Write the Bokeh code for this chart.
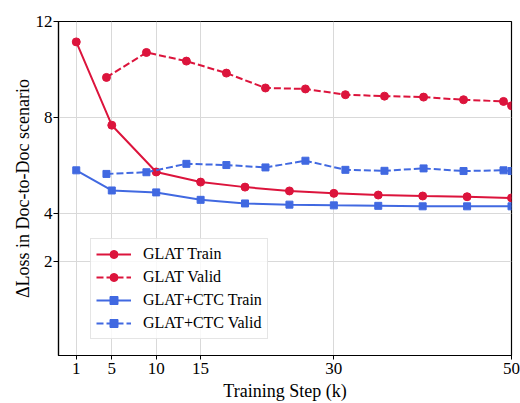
from bokeh.plotting import figure
from bokeh.models import Range1d, FixedTicker, Legend, LegendItem
from bokeh.embed import file_html
from bokeh.resources import INLINE

# ---- data ----
train_steps = [1, 5, 10, 15, 20, 25, 30, 35, 40, 45, 50]
glat_train = [11.15, 7.68, 5.73, 5.31, 5.10, 4.94, 4.84, 4.77, 4.73, 4.70, 4.65]
ctc_train = [5.80, 4.96, 4.88, 4.57, 4.42, 4.37, 4.34, 4.32, 4.30, 4.30, 4.30]

valid_steps = [4.4, 8.9, 13.4, 17.9, 22.3, 26.8, 31.3, 35.7, 40.1, 44.6, 49.1, 50]
glat_valid = [9.67, 10.71, 10.35, 9.85, 9.23, 9.19, 8.95, 8.89, 8.85, 8.74, 8.67, 8.49]
ctc_valid = [5.65, 5.72, 6.07, 6.02, 5.92, 6.20, 5.82, 5.78, 5.88, 5.77, 5.80, 5.77]

x_ticks = [1, 5, 10, 15, 30, 50]
y_ticks = [2, 4, 8, 12]

RED = "#DC143C"
BLUE = "#4169E1"
FONT = "Liberation Serif"
DASH = "7 3"

p = figure(width=520, height=403, output_backend="svg", toolbar_location=None,
           x_range=Range1d(-1, 50), y_range=Range1d(-1.915, 12),
           min_border_left=58, min_border_right=9, min_border_top=21, min_border_bottom=44)

p.background_fill_color = "white"
p.border_fill_color = "white"
p.outline_line_color = "black"
p.outline_line_width = 1.2

p.xaxis.ticker = FixedTicker(ticks=x_ticks)
p.yaxis.ticker = FixedTicker(ticks=y_ticks)
p.xaxis.axis_label = "Training Step (k)"
p.yaxis.axis_label = "\u0394Loss in Doc-to-Doc scenario"
for ax in (p.xaxis, p.yaxis):
    ax.axis_label_text_font = FONT
    ax.axis_label_text_font_size = "18px"
    ax.axis_label_text_font_style = "normal"
    ax.axis_label_text_color = "black"
    ax.major_label_text_font = FONT
    ax.major_label_text_font_size = "17px"
    ax.major_label_text_color = "black"
    ax.axis_line_color = "black"
    ax.axis_line_width = 1.2
    ax.major_tick_line_color = "black"
    ax.major_tick_in = 0
    ax.minor_tick_line_color = None
p.xaxis.major_tick_out = 4
p.yaxis.major_tick_out = 5
p.xaxis.major_label_standoff = 3
p.xaxis.axis_label_standoff = 4
p.yaxis.major_label_standoff = 1
p.yaxis.axis_label_standoff = 0
p.yaxis.major_label_orientation = "horizontal"

p.xgrid.ticker = FixedTicker(ticks=x_ticks)
p.ygrid.ticker = FixedTicker(ticks=y_ticks)
p.grid.grid_line_color = "#d9d9d9"
p.grid.grid_line_width = 1

l1 = p.line(train_steps, glat_train, line_color=RED, line_width=2)
s1 = p.scatter(train_steps, glat_train, marker="circle", size=8, fill_color=RED, line_color=RED)
l2 = p.line(valid_steps, glat_valid, line_color=RED, line_width=2, line_dash=DASH)
s2 = p.scatter(valid_steps, glat_valid, marker="circle", size=8, fill_color=RED, line_color=RED)
l3 = p.line(train_steps, ctc_train, line_color=BLUE, line_width=2)
s3 = p.scatter(train_steps, ctc_train, marker="square", size=7, fill_color=BLUE, line_color=BLUE)
l4 = p.line(valid_steps, ctc_valid, line_color=BLUE, line_width=2, line_dash=DASH)
s4 = p.scatter(valid_steps, ctc_valid, marker="square", size=7, fill_color=BLUE, line_color=BLUE)

legend = Legend(items=[
    LegendItem(label="GLAT Train", renderers=[l1, s1]),
    LegendItem(label="GLAT Valid", renderers=[l2, s2]),
    LegendItem(label="GLAT+CTC Train", renderers=[l3, s3]),
    LegendItem(label="GLAT+CTC Valid", renderers=[l4, s4]),
], location=(32, 16))
legend.label_text_font = FONT
legend.label_text_font_size = "16px"
legend.label_text_color = "black"
legend.glyph_width = 35
legend.glyph_height = 20
legend.label_height = 20
legend.label_standoff = 12
legend.spacing = 3
legend.padding = 5
legend.margin = 0
legend.border_line_color = "#cccccc"
legend.border_line_width = 1
legend.background_fill_color = "white"
legend.background_fill_alpha = 0.8
p.add_layout(legend, "center")

open("out.html", "w").write(file_html(p, INLINE))
